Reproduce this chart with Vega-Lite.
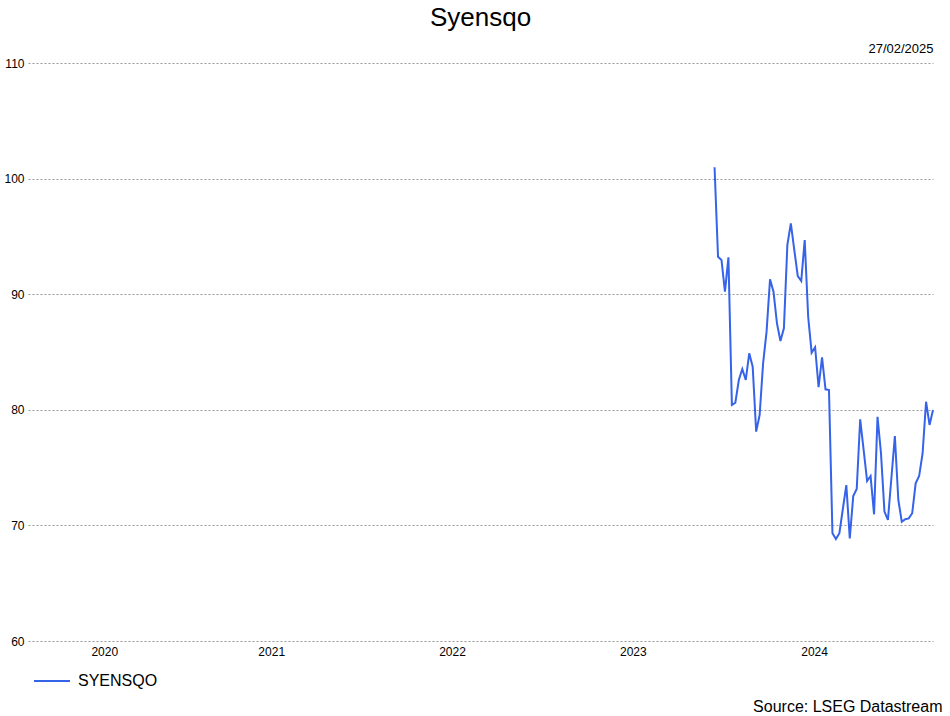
{
  "$schema": "https://vega.github.io/schema/vega-lite/v6.json",
  "width": 905,
  "height": 578,
  "autosize": "none",
  "padding": {"left": 28, "top": 63, "right": 17, "bottom": 75},
  "background": "white",
  "title": {
    "text": "Syensqo",
    "font": "Liberation Sans",
    "fontSize": 26,
    "fontWeight": "normal",
    "color": "#000000",
    "anchor": "middle",
    "frame": "group",
    "baseline": "alphabetic",
    "offset": -10
  },
  "data": {
    "values": [
      {"date": "2023-12-14", "price": 100.98, "series": "SYENSQO"},
      {"date": "2023-12-21", "price": 93.24, "series": "SYENSQO"},
      {"date": "2023-12-28", "price": 92.96, "series": "SYENSQO"},
      {"date": "2024-01-04", "price": 90.22, "series": "SYENSQO"},
      {"date": "2024-01-11", "price": 93.19, "series": "SYENSQO"},
      {"date": "2024-01-18", "price": 80.42, "series": "SYENSQO"},
      {"date": "2024-01-25", "price": 80.61, "series": "SYENSQO"},
      {"date": "2024-02-01", "price": 82.58, "series": "SYENSQO"},
      {"date": "2024-02-08", "price": 83.53, "series": "SYENSQO"},
      {"date": "2024-02-15", "price": 82.58, "series": "SYENSQO"},
      {"date": "2024-02-22", "price": 84.89, "series": "SYENSQO"},
      {"date": "2024-02-29", "price": 83.73, "series": "SYENSQO"},
      {"date": "2024-03-07", "price": 78.11, "series": "SYENSQO"},
      {"date": "2024-03-14", "price": 79.55, "series": "SYENSQO"},
      {"date": "2024-03-21", "price": 84.02, "series": "SYENSQO"},
      {"date": "2024-03-28", "price": 86.76, "series": "SYENSQO"},
      {"date": "2024-04-04", "price": 91.29, "series": "SYENSQO"},
      {"date": "2024-04-11", "price": 90.22, "series": "SYENSQO"},
      {"date": "2024-04-18", "price": 87.48, "series": "SYENSQO"},
      {"date": "2024-04-25", "price": 85.95, "series": "SYENSQO"},
      {"date": "2024-05-02", "price": 87.05, "series": "SYENSQO"},
      {"date": "2024-05-09", "price": 94.26, "series": "SYENSQO"},
      {"date": "2024-05-16", "price": 96.13, "series": "SYENSQO"},
      {"date": "2024-05-23", "price": 93.82, "series": "SYENSQO"},
      {"date": "2024-05-30", "price": 91.57, "series": "SYENSQO"},
      {"date": "2024-06-06", "price": 91.14, "series": "SYENSQO"},
      {"date": "2024-06-13", "price": 94.69, "series": "SYENSQO"},
      {"date": "2024-06-20", "price": 88.05, "series": "SYENSQO"},
      {"date": "2024-06-27", "price": 84.94, "series": "SYENSQO"},
      {"date": "2024-07-04", "price": 85.41, "series": "SYENSQO"},
      {"date": "2024-07-11", "price": 81.95, "series": "SYENSQO"},
      {"date": "2024-07-18", "price": 84.54, "series": "SYENSQO"},
      {"date": "2024-07-25", "price": 81.77, "series": "SYENSQO"},
      {"date": "2024-08-01", "price": 81.71, "series": "SYENSQO"},
      {"date": "2024-08-08", "price": 69.32, "series": "SYENSQO"},
      {"date": "2024-08-15", "price": 68.82, "series": "SYENSQO"},
      {"date": "2024-08-22", "price": 69.32, "series": "SYENSQO"},
      {"date": "2024-08-29", "price": 71.42, "series": "SYENSQO"},
      {"date": "2024-09-05", "price": 73.49, "series": "SYENSQO"},
      {"date": "2024-09-12", "price": 68.88, "series": "SYENSQO"},
      {"date": "2024-09-19", "price": 72.54, "series": "SYENSQO"},
      {"date": "2024-09-26", "price": 73.15, "series": "SYENSQO"},
      {"date": "2024-10-03", "price": 79.18, "series": "SYENSQO"},
      {"date": "2024-10-10", "price": 76.52, "series": "SYENSQO"},
      {"date": "2024-10-17", "price": 73.84, "series": "SYENSQO"},
      {"date": "2024-10-24", "price": 74.27, "series": "SYENSQO"},
      {"date": "2024-10-31", "price": 70.96, "series": "SYENSQO"},
      {"date": "2024-11-07", "price": 79.40, "series": "SYENSQO"},
      {"date": "2024-11-14", "price": 76.24, "series": "SYENSQO"},
      {"date": "2024-11-21", "price": 71.19, "series": "SYENSQO"},
      {"date": "2024-11-28", "price": 70.47, "series": "SYENSQO"},
      {"date": "2024-12-05", "price": 74.10, "series": "SYENSQO"},
      {"date": "2024-12-12", "price": 77.73, "series": "SYENSQO"},
      {"date": "2024-12-19", "price": 72.20, "series": "SYENSQO"},
      {"date": "2024-12-26", "price": 70.32, "series": "SYENSQO"},
      {"date": "2025-01-02", "price": 70.53, "series": "SYENSQO"},
      {"date": "2025-01-09", "price": 70.61, "series": "SYENSQO"},
      {"date": "2025-01-16", "price": 71.05, "series": "SYENSQO"},
      {"date": "2025-01-23", "price": 73.64, "series": "SYENSQO"},
      {"date": "2025-01-30", "price": 74.27, "series": "SYENSQO"},
      {"date": "2025-02-06", "price": 76.24, "series": "SYENSQO"},
      {"date": "2025-02-13", "price": 80.70, "series": "SYENSQO"},
      {"date": "2025-02-20", "price": 78.69, "series": "SYENSQO"},
      {"date": "2025-02-27", "price": 79.98, "series": "SYENSQO"}
    ]
  },
  "mark": {"type": "line", "strokeWidth": 2, "interpolate": "linear"},
  "encoding": {
    "x": {
      "field": "date",
      "type": "temporal",
      "scale": {"domain": [{"year": 2020, "month": 2, "date": 27}, {"year": 2025, "month": 2, "date": 27}]},
      "axis": {
        "title": "Source: LSEG Datastream",
        "titleFont": "Liberation Sans",
        "titleFontSize": 16,
        "titleFontWeight": "normal",
        "titleColor": "#000000",
        "titleAnchor": "end",
        "titleAlign": "right",
        "titleBaseline": "alphabetic",
        "titleX": 914,
        "titleY": 70,
        "values": [
          {"year": 2020, "month": 7, "date": 30},
          {"year": 2021, "month": 7, "date": 2},
          {"year": 2022, "month": 7, "date": 2},
          {"year": 2023, "month": 7, "date": 2},
          {"year": 2024, "month": 7, "date": 2}
        ],
        "labelExpr": "timeFormat(datum.value, '%Y')",
        "labelFont": "Liberation Sans",
        "labelFontSize": 12,
        "labelColor": "#000000",
        "labelPadding": 5,
        "labelFlush": false,
        "labelOverlap": false,
        "ticks": false,
        "domain": false,
        "grid": false
      }
    },
    "y": {
      "field": "price",
      "type": "quantitative",
      "scale": {"domain": [60, 110], "nice": false, "zero": false},
      "axis": {
        "title": "27/02/2025",
        "titleFont": "Liberation Sans",
        "titleFontSize": 13,
        "titleFontWeight": "normal",
        "titleColor": "#000000",
        "titleAngle": 0,
        "titleAlign": "right",
        "titleBaseline": "alphabetic",
        "titleX": 905,
        "titleY": -11,
        "values": [60, 70, 80, 90, 100, 110],
        "labelFont": "Liberation Sans",
        "labelFontSize": 12,
        "labelColor": "#000000",
        "labelPadding": 4,
        "ticks": false,
        "domain": false,
        "grid": true,
        "gridColor": "#999999",
        "gridDash": [2, 2],
        "gridWidth": 1
      }
    },
    "color": {
      "field": "series",
      "type": "nominal",
      "scale": {"range": ["#3563E9"]},
      "legend": {
        "title": null,
        "orient": "none",
        "legendX": 5,
        "legendY": 599,
        "symbolType": "stroke",
        "symbolSize": 1296,
        "symbolStrokeWidth": 2,
        "labelFont": "Liberation Sans",
        "labelFontSize": 16,
        "labelColor": "#000000",
        "labelOffset": 7,
        "padding": 0
      }
    }
  },
  "config": {"view": {"stroke": null}}
}
